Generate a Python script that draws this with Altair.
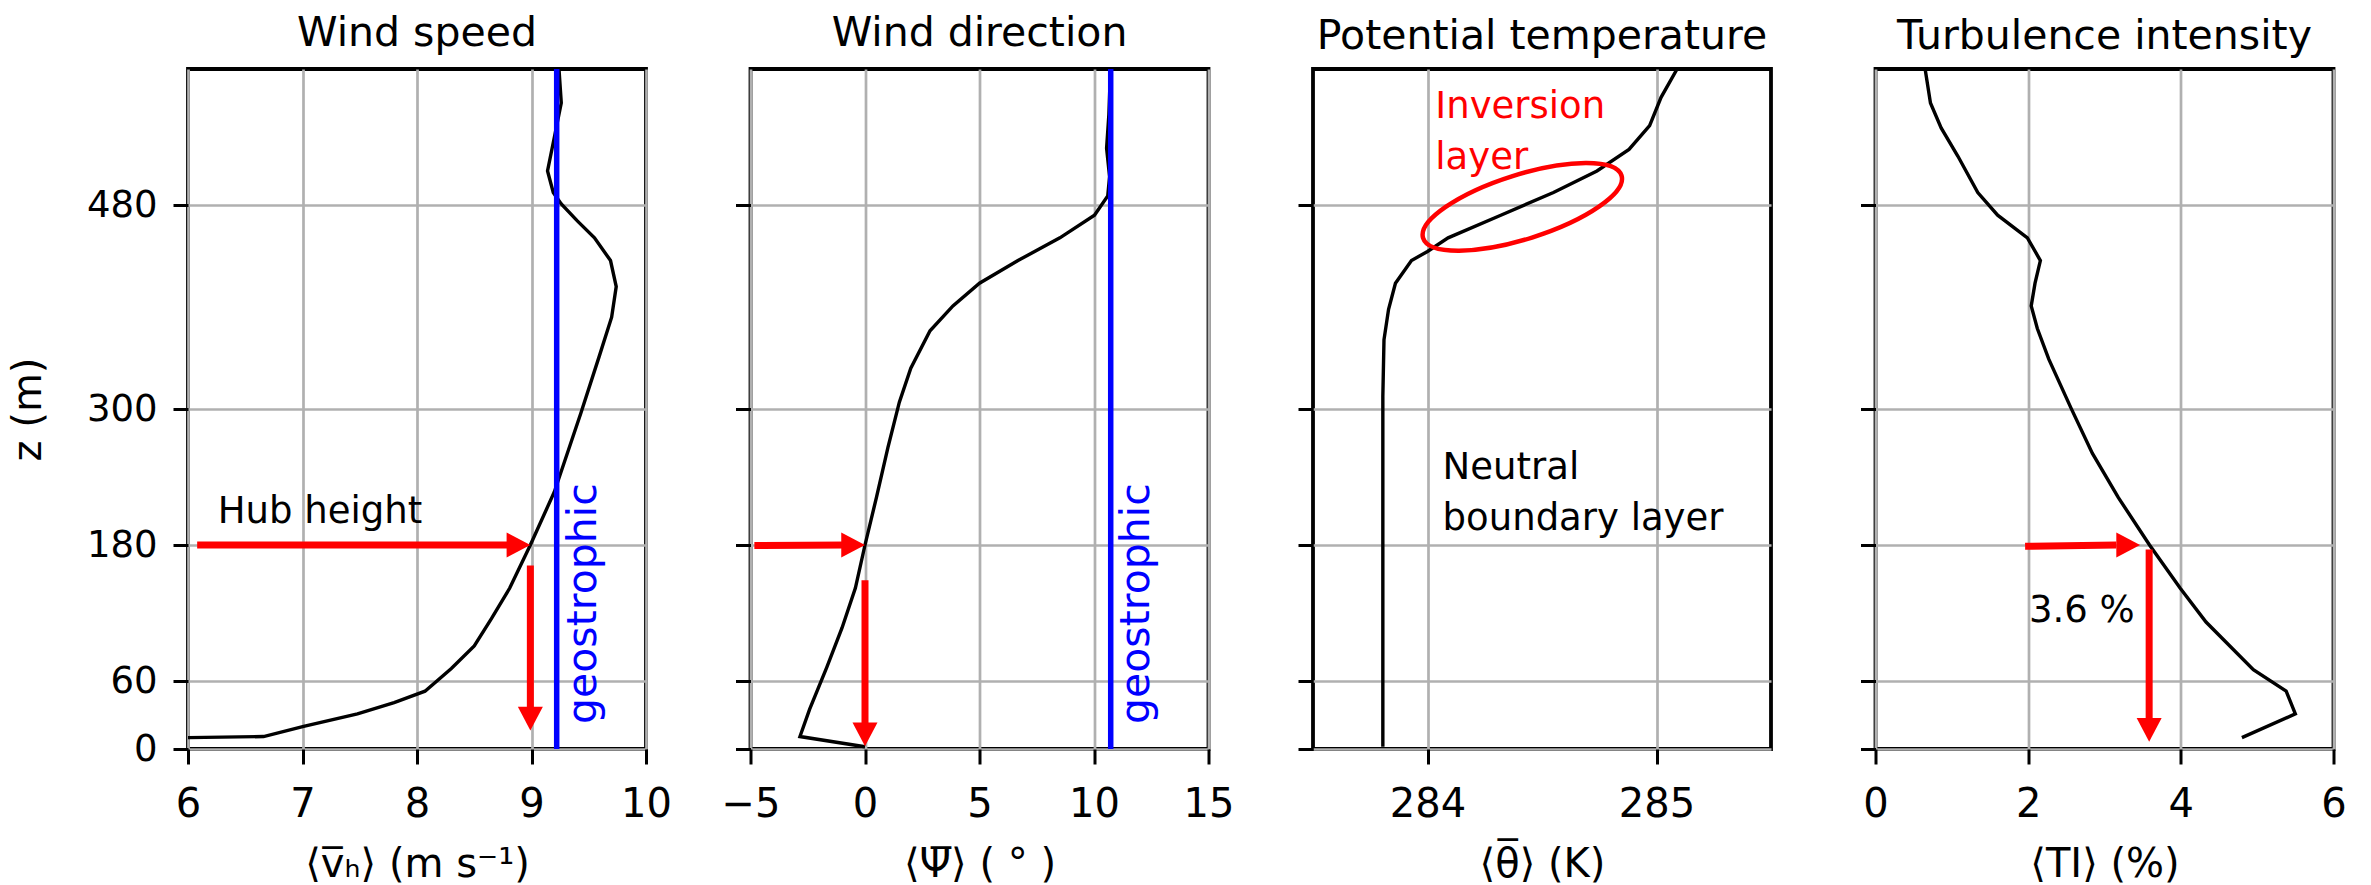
import altair as alt
import pandas as pd

FONT = "DejaVu Sans"

# ---------------- data ----------------
Z_TICKS = [0, 60, 180, 300, 480]

# Wind speed profile (m/s) vs z (m)
ws_z = [10, 11, 20, 31, 41, 51, 71, 91, 115, 142, 180, 227, 296, 346, 381, 408, 431, 451, 466, 481, 491, 510, 540, 570, 600]
ws_v = [6.00, 6.66, 7.01, 7.48, 7.80, 8.07, 8.30, 8.50, 8.65, 8.81, 8.99, 9.20, 9.43, 9.59, 9.70, 9.74, 9.69, 9.55, 9.40, 9.26, 9.19, 9.14, 9.20, 9.26, 9.24]
ws_geo = 9.22

# Wind direction profile (deg)
wd_z = [2, 11, 35, 72, 107, 142, 180, 222, 266, 306, 336, 369, 391, 411, 431, 451, 471, 488, 505, 530, 560, 600]
wd_v = [0.0, -2.84, -2.42, -1.67, -1.0, -0.42, 0.0, 0.5, 1.0, 1.5, 2.0, 2.84, 3.84, 5.0, 6.68, 8.51, 10.02, 10.6, 10.68, 10.55, 10.65, 10.72]
wd_geo = 10.73

# Potential temperature profile (K)
th_z = [2, 311, 361, 388, 411, 431, 439, 451, 471, 491, 510, 529, 550, 575, 600]
th_v = [283.805, 283.805, 283.81, 283.83, 283.86, 283.93, 284.0, 284.09, 284.32, 284.55, 284.74, 284.88, 284.97, 285.02, 285.09]

# Turbulence intensity profile (%)
ti_z = [10, 31, 51, 70, 112, 142, 180, 222, 261, 301, 344, 371, 391, 411, 431, 451, 471, 491, 523, 548, 570, 600]
ti_v = [4.80, 5.50, 5.38, 4.95, 4.33, 3.99, 3.59, 3.18, 2.84, 2.56, 2.27, 2.12, 2.04, 2.09, 2.16, 1.99, 1.60, 1.34, 1.08, 0.86, 0.72, 0.65]

# Arrows: shaft start (x, z), shaft end (x2, z2) and head tip (tx, tz), head angle
ws_arrows = {"x": [6.08, 8.99], "z": [180, 162], "x2": [8.79, 8.99], "z2": [180, 37],
             "tx": [8.99, 8.99], "tz": [180, 16.4], "a": [0, 90]}
wd_arrows = {"x": [-4.83, 0.0], "z": [179.5, 149], "x2": [-0.83, 0.0], "z2": [180, 23],
             "tx": [0.0, 0.0], "tz": [180, 2.5], "a": [0, 90]}
ti_arrows = {"x": [1.96, 3.585], "z": [178.8, 176], "x2": [3.155, 3.585], "z2": [180, 26],
             "tx": [3.466, 3.585], "tz": [180, 6.5], "a": [0, 90]}

# Text annotations
ws_texts = {"x": [6.26], "z": [199.5], "t": ["Hub height"]}
th_texts = {"x": [284.066], "z": [238], "t": ["Neutral\nboundary layer"]}
th_red_texts = {"x": [284.034], "z": [556.6], "t": ["Inversion\nlayer"]}
ti_texts = {"x": [2.01], "z": [112], "t": ["3.6 %"]}
ws_geo_text = {"x": [9.565], "z": [22], "t": ["geostrophic"]}
wd_geo_text = {"x": [12.38], "z": [22], "t": ["geostrophic"]}

# Inversion-layer ellipse centre
ellipse = {"x": [284.414], "z": [478.4]}

ARROW_HEAD = "M 0 0 L -1.9 -1 L -1.9 1 Z"
ELLIPSE_PATH = "M -1 0 A 1 0.31 0 1 0 1 0 A 1 0.31 0 1 0 -1 0 Z"

PW, PH = 458, 680


class Enc:
    def __init__(self, xs, xa, ys, ya):
        self.xs, self.xa, self.ys, self.ya = xs, xa, ys, ya

    def X(self, field="x"):
        return alt.X(f"{field}:Q", scale=self.xs, axis=self.xa)

    def Y(self, field="z"):
        return alt.Y(f"{field}:Q", scale=self.ys, axis=self.ya)


def panel(title, xdom, xticks, xtitle, px, pz, show_y, layers_fn):
    xs = alt.Scale(domain=xdom, nice=False, zero=False)
    ys = alt.Scale(domain=[0, 600], nice=False, zero=False)
    xa = alt.Axis(values=xticks, title=xtitle, format="d")
    if show_y:
        ya = alt.Axis(values=Z_TICKS, title="z (m)")
    else:
        ya = alt.Axis(values=Z_TICKS, title=None, labels=False)
    E = Enc(xs, xa, ys, ya)
    df = pd.DataFrame({"x": px, "z": pz})
    line = alt.Chart(df).mark_line(color="black", strokeWidth=3.4, clip=True).encode(
        x=E.X(), y=E.Y(), order=alt.Order("z:Q"))
    layers = [line] + layers_fn(E)
    return alt.layer(*layers).properties(
        width=PW, height=PH,
        title=alt.TitleParams(title, fontSize=41, font=FONT, fontWeight="normal",
                              color="black", offset=11, anchor="middle"))


def geo_layers(E, gx, gt):
    rule = alt.Chart(pd.DataFrame({"x": [gx]})).mark_rule(color="#0000ff", strokeWidth=5.5).encode(x=E.X())
    txt = alt.Chart(pd.DataFrame(gt)).mark_text(
        angle=270, align="left", baseline="alphabetic", font=FONT, fontSize=41, color="#0000ff"
    ).encode(x=E.X(), y=E.Y(), text="t:N")
    return [rule, txt]


def arrow_layers(E, arr):
    df = pd.DataFrame(arr)
    shaft = alt.Chart(df).mark_rule(color="#ff0000", strokeWidth=7, strokeCap="butt").encode(
        x=E.X(), y=E.Y(), x2="x2:Q", y2="z2:Q")
    head = alt.Chart(df).mark_point(shape=ARROW_HEAD, filled=True, color="#ff0000",
                                    opacity=1, size=625, strokeWidth=0).encode(
        x=E.X("tx"), y=E.Y("tz"), angle=alt.Angle("a:Q", scale=None))
    return [shaft, head]


def text_layer(E, d, color="black"):
    return alt.Chart(pd.DataFrame(d)).mark_text(
        align="left", baseline="alphabetic", font=FONT, fontSize=37, color=color,
        lineBreak="\n", lineHeight=51).encode(x=E.X(), y=E.Y(), text="t:N")


p1 = panel("Wind speed", [6, 10], [6, 7, 8, 9, 10], "⟨v̅ₕ⟩ (m s⁻¹)", ws_v, ws_z, True,
           lambda E: geo_layers(E, ws_geo, ws_geo_text) + arrow_layers(E, ws_arrows)
           + [text_layer(E, ws_texts)])

p2 = panel("Wind direction", [-5, 15], [-5, 0, 5, 10, 15], "⟨Ψ̅⟩ ( ° )", wd_v, wd_z, False,
           lambda E: geo_layers(E, wd_geo, wd_geo_text) + arrow_layers(E, wd_arrows))


def th_layers(E):
    ell = alt.Chart(pd.DataFrame(ellipse)).mark_point(
        shape=ELLIPSE_PATH, filled=False, color="#ff0000", opacity=1, strokeWidth=4.5,
        size=43264, angle=342.5).encode(x=E.X(), y=E.Y())
    return [ell, text_layer(E, th_texts), text_layer(E, th_red_texts, "#ff0000")]


p3 = panel("Potential temperature", [283.5, 285.5], [284, 285], "⟨θ̅⟩ (K)", th_v, th_z, False, th_layers)

p4 = panel("Turbulence intensity", [0, 6], [0, 2, 4, 6], "⟨TI⟩ (%)", ti_v, ti_z, False,
           lambda E: arrow_layers(E, ti_arrows) + [text_layer(E, ti_texts)])

chart = alt.hconcat(p1, p2, p3, p4, spacing=104.5, bounds="flush").properties(
    padding={"left": 6, "top": 11, "right": 5, "bottom": 0},
    background="white",
).configure_view(
    stroke="black", strokeWidth=3.8
).configure_axis(
    grid=True, gridColor="#b0b0b0", gridWidth=2.7,
    domain=False,
    tickColor="black", tickWidth=3, tickSize=15,
    labelFont=FONT, labelFontSize=37, labelColor="black", labelPadding=20,
    labelFlush=False, labelOverlap=False,
    titleFont=FONT, titleFontSize=40, titleFontWeight="normal", titleColor="black",
).configure_axisX(
    labelFontSize=40, titlePadding=20
).configure_axisY(
    labelPadding=16, titlePadding=38
)

chart.save("out.html", embed_options={"renderer": "svg", "actions": False})
